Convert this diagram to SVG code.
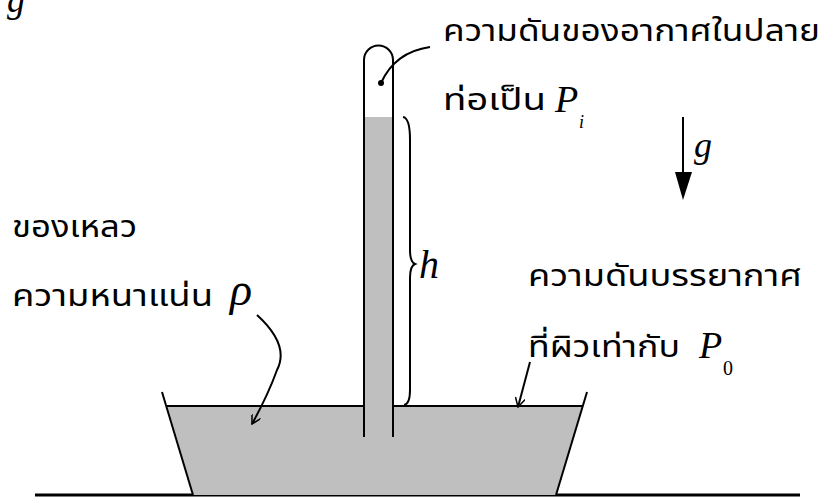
<svg xmlns="http://www.w3.org/2000/svg" width="830" height="498" viewBox="0 0 830 498">
<style>
.th{font-family:"Noto Sans Thai","Noto Sans","DejaVu Sans",sans-serif;font-size:30px;fill:#000}
.m{font-family:"Liberation Serif",serif;font-style:italic;fill:#000}
.n{font-family:"Liberation Serif",serif;font-style:normal;fill:#000}
.ln{fill:none;stroke:#000;stroke-width:2}
.liq{fill:#bfbfbf}
</style>
<defs>
<marker id="ah" markerWidth="10" markerHeight="10" refX="9" refY="5" orient="auto" markerUnits="userSpaceOnUse">
<path d="M0,0 L9,5 L0,10" fill="none" stroke="#000" stroke-width="1.5"/>
</marker>
</defs>
<g id="ground"><line x1="35" y1="495" x2="800" y2="495" stroke="#000" stroke-width="3"/></g>
<g id="container">
<polygon class="liq" points="167,406 582,406 556,495 193,495"/>
<line class="ln" x1="167" y1="406" x2="582" y2="406"/>
<line class="ln" x1="162" y1="392" x2="193" y2="495"/>
<line class="ln" x1="587" y1="392" x2="556" y2="495"/>
</g>
<g id="tube">
<rect class="liq" x="364" y="117" width="30" height="320"/>
<path class="ln" d="M364,437 L364,60 A14.5,14.5 0 0 1 393,60 L393,437"/>
<circle cx="381" cy="83" r="3" fill="#000"/>
</g>
<g id="connectors">
<path class="ln" d="M381,83 Q395,52 430,47"/>
<path class="ln" d="M403,117 Q410,118 410,140 L410,250 Q410,262 415,264 Q410,266 410,278 L410,390 Q410,404 404,405"/>
<path class="ln" d="M257,315 Q290,345 277,370 Q268,395 252,424" marker-end="url(#ah)"/>
<path class="ln" d="M530,362 L518,407" marker-end="url(#ah)"/>
<line class="ln" x1="683" y1="117" x2="683" y2="174"/>
<polygon points="675,172 692,172 683,200" fill="#000"/>
</g>
<g id="labels">
<text class="m" x="7" y="12" font-size="36">g</text>
<text class="th" x="443" y="41" textLength="377" lengthAdjust="spacingAndGlyphs">ความดันของอากาศในปลาย</text>
<text class="th" x="443" y="110" textLength="103" lengthAdjust="spacingAndGlyphs">ท่อเป็น</text>
<text class="m" x="555" y="112" font-size="38">P</text>
<text class="m" x="579" y="128" font-size="18">i</text>
<text class="m" x="694" y="157" font-size="36">g</text>
<text class="m" x="419" y="278" font-size="40">h</text>
<text class="th" x="12" y="237" textLength="125" lengthAdjust="spacingAndGlyphs">ของเหลว</text>
<text class="th" x="12" y="306" textLength="201" lengthAdjust="spacingAndGlyphs">ความหนาแน่น</text>
<text class="m" x="230" y="305" font-size="46">ρ</text>
<text class="th" x="528" y="286" textLength="274" lengthAdjust="spacingAndGlyphs">ความดันบรรยากาศ</text>
<text class="th" x="528" y="357" textLength="152" lengthAdjust="spacingAndGlyphs">ที่ผิวเท่ากับ</text>
<text class="m" x="699" y="358" font-size="38">P</text>
<text class="n" x="723" y="375" font-size="20">0</text>
</g>
</svg>
